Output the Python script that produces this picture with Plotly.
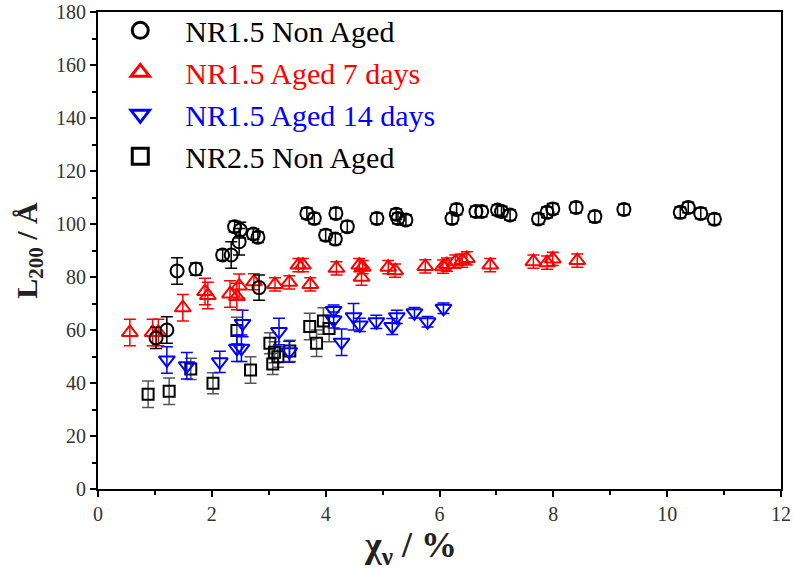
import plotly.graph_objects as go

# NR1.5, non aged (circles)
nr15_x = [1.02, 1.21, 1.39, 1.72, 2.19, 2.34, 2.40, 2.50, 2.48, 2.73, 2.81, 2.83,
          3.67, 3.80, 4.00, 4.17, 4.18, 4.38, 4.90, 5.24, 5.27, 5.41,
          6.22, 6.30, 6.64, 6.74, 7.02, 7.09, 7.24, 7.74, 7.89, 7.99, 8.40,
          8.73, 9.24, 10.23, 10.37, 10.59, 10.83]
nr15_y = [57.0, 60.0, 82.3, 83.0, 88.3, 88.3, 99.0, 97.7, 93.3, 96.2, 95.0, 76.0,
          104.0, 102.1, 95.8, 94.3, 104.0, 99.0, 102.1, 103.7, 102.1, 101.5,
          102.1, 105.5, 104.7, 104.7, 105.3, 104.7, 103.4, 101.9, 104.4, 105.7, 106.2,
          102.8, 105.5, 104.4, 106.2, 104.0, 101.8]
nr15_e = [4, 5, 5, 2.3, 2, 5, 2, 3, 5, 2, 2, 4.8,
          2, 2, 2, 2, 2, 2, 2, 2, 2, 2,
          2, 2, 2, 2, 2, 2, 2, 2, 2, 2, 2,
          2, 2, 2, 2, 2, 2]

# NR1.5, aged 7 days (up triangles)
a7_x = [0.56, 0.96, 1.06, 1.49, 1.88, 1.93, 2.32, 2.44, 2.48, 2.74, 3.11, 3.36,
        3.52, 3.60, 3.73, 4.19, 4.59, 4.65, 4.63, 5.10, 5.22, 5.75, 6.06, 6.13,
        6.28, 6.40, 6.48, 6.89, 7.65, 7.89, 7.99, 8.42]
a7_y = [59.1, 59.1, 59.1, 68.4, 74.5, 73.0, 73.6, 72.6, 76.6, 78.2, 77.2, 78.0,
        84.5, 84.5, 77.2, 83.3, 84.5, 83.7, 79.9, 83.7, 82.4, 84.0, 83.9, 84.7,
        85.8, 86.2, 87.0, 84.5, 85.8, 85.4, 86.8, 86.2]
a7_e = [5, 5, 5, 5, 5, 5, 5, 5, 4.5, 3, 2.5, 2.5,
        2.5, 2.5, 2.5, 2.5, 2.5, 2.5, 3, 2.5, 2.5, 2.5, 2.5, 2.5,
        2.5, 2.5, 2.5, 2.5, 2.5, 2.5, 2.5, 2.5]

# NR1.5, aged 14 days (down triangles)
a14_x = [1.21, 1.56, 2.14, 2.44, 2.52, 2.54, 3.18, 3.36, 4.14, 4.14, 4.28,
         4.49, 4.60, 4.89, 5.17, 5.25, 5.56, 5.79, 6.07]
a14_y = [48.7, 46.5, 48.0, 53.1, 53.1, 62.5, 59.4, 51.8, 67.4, 63.8, 55.4,
         65.0, 61.9, 63.1, 61.3, 65.0, 66.5, 63.1, 68.2]
a14_e = [5, 5, 4, 5, 5, 5, 5, 4, 2, 3, 5,
         5, 2.5, 2.5, 3, 2.5, 2, 2, 2]

# NR2.5, non aged (squares)
nr25_x = [0.88, 1.25, 1.63, 2.02, 2.44, 2.68, 3.02, 3.10, 3.16, 3.07, 3.37,
          3.72, 3.84, 3.96, 4.06]
nr25_y = [35.8, 36.9, 45.3, 39.9, 59.8, 44.9, 55.0, 51.6, 49.9, 47.2, 52.1,
          61.3, 55.0, 63.4, 60.6]
nr25_e = [5, 5, 4, 4, 5, 5, 4, 4, 4, 4, 4,
          5, 5, 5, 5]

series = [
    ("NR1.5 Non Aged", nr15_x, nr15_y, nr15_e, "circle-open", "#000000", "#000000", 13),
    ("NR1.5 Aged 7 days", a7_x, a7_y, a7_e, "triangle-up-open", "#ff0000", "#ff0000", 14),
    ("NR1.5 Aged 14 days", a14_x, a14_y, a14_e, "triangle-down-open", "#0000ff", "#0000ff", 14),
    ("NR2.5 Non Aged", nr25_x, nr25_y, nr25_e, "square-open", "#000000", "#555555", 11),
]

FONT = "Liberation Serif"

fig = go.Figure()

# data: squares drawn first so circles / triangles sit on top
for name, xs, ys, es, sym, col, ecol, size in reversed(series):
    fig.add_trace(go.Scatter(
        x=xs, y=ys, mode="markers", showlegend=False,
        marker=dict(symbol=sym, size=size, color=col, line=dict(width=2, color=col)),
        error_y=dict(type="data", array=es, visible=True, color=ecol,
                     thickness=1.5, width=6),
    ))

# legend entries with larger symbols and coloured labels
for i, (name, xs, ys, es, sym, col, ecol, size) in enumerate(series):
    fig.add_trace(go.Scatter(
        x=[None], y=[None], mode="markers",
        name=f"<span style='color:{col}'>{name}</span>",
        legendgroup=f"g{i}",
        marker=dict(symbol=sym, size=16, color=col, line=dict(width=3, color=col)),
    ))

axis_common = dict(
    showline=True, linecolor="black", linewidth=2, mirror=True,
    ticks="outside", ticklen=6, tickwidth=2, tickcolor="black",
    showgrid=False, zeroline=False,
    tickfont=dict(family=FONT, size=20, color="#333"),
)

fig.update_xaxes(
    range=[0, 12], dtick=2, tick0=0,
    minor=dict(ticks="outside", ticklen=4, tickwidth=2, dtick=1, tickcolor="black"),
    **axis_common,
)
fig.update_yaxes(
    range=[0, 180], dtick=20, tick0=0,
    minor=dict(ticks="outside", ticklen=4, tickwidth=2, dtick=10, tickcolor="black"),
    title=dict(text="<b>L<sub>200</sub> / Å</b>", font=dict(family=FONT, size=30, color="#222"),
               standoff=10),
    **axis_common,
)

# x-axis title, set slightly left of the plot centre
fig.add_annotation(
    text="<b>χ<sub>ν</sub> / %</b>", xref="paper", yref="paper",
    x=0.457, y=-0.122, xanchor="center", yanchor="middle", showarrow=False,
    font=dict(family=FONT, size=36, color="#222"),
)

fig.update_layout(
    width=794, height=569,
    margin=dict(l=98, r=13, t=12, b=80, autoexpand=False),
    paper_bgcolor="white", plot_bgcolor="white",
    legend=dict(
        x=-0.004, y=1.016, xanchor="left", yanchor="top",
        font=dict(family=FONT, size=30, color="#000"),
        bgcolor="rgba(0,0,0,0)", tracegroupgap=0, itemwidth=80,
    ),
)

fig.write_html("out.html")
